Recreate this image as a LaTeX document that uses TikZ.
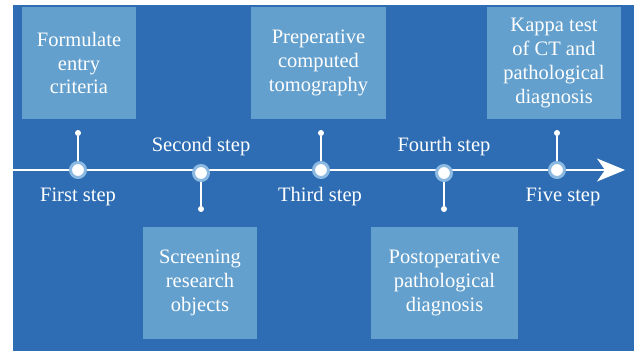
\documentclass[tikz,border=0pt]{standalone}
\usepackage{fontspec}
\setmainfont{Liberation Serif}
\usetikzlibrary{arrows.meta}
\definecolor{bgblue}{RGB}{46,109,179}
\definecolor{boxblue}{RGB}{100,160,205}
\definecolor{haloblue}{RGB}{140,185,225}
\tikzset{stepbox/.style={fill=boxblue, text=white, align=center, minimum height=112pt,
  inner sep=0pt, font=\fontsize{20.5}{23.7}\selectfont},
  steplabel/.style={text=white, anchor=base, font=\fontsize{20.5}{23}\selectfont},
  knot/.style={circle, fill=white, draw=haloblue, line width=3pt, minimum size=15pt, inner sep=0pt},
  stemdot/.style={circle, fill=white, minimum size=6pt, inner sep=0pt},
  stem/.style={white, line width=1.3pt}}
\begin{document}
\begin{tikzpicture}[x=1pt, y=-1pt]
      \useasboundingbox (0,0) rectangle (634,351);
      \fill [bgblue] (13,5) rectangle (634,351);

      % time line
      \coordinate (start) at (13,170);
      \coordinate (tip) at (625,170);
      \draw [white, line width=1.5pt, -{Stealth[length=28pt, width=23pt, inset=8pt]}] (start) -- (tip);

      \node [stepbox, minimum width=114pt] (box1) at (79,63) {Formulate\\entry\\criteria};
      \node [stepbox, minimum width=114pt] (box2) at (200,283) {Screening\\research\\objects};
      \node [stepbox, minimum width=135pt] (box3) at (318.5,63) {Preperative\\computed\\tomography};
      \node [stepbox, minimum width=147pt] (box4) at (444.5,283) {Postoperative\\pathological\\diagnosis};
      \node [stepbox, minimum width=134pt] (box5) at (554,63) {Kappa test\\of CT and\\pathological\\diagnosis};

      \node [stemdot] (d1) at (78,133) {};
      \node [stemdot] (d2) at (201,209) {};
      \node [stemdot] (d3) at (321,133) {};
      \node [stemdot] (d4) at (444,209) {};
      \node [stemdot] (d5) at (557,133) {};

      \node [knot] (k1) at (78,170) {};
      \node [knot] (k2) at (201,173) {};
      \node [knot] (k3) at (321,170) {};
      \node [knot] (k4) at (444,173) {};
      \node [knot] (k5) at (557,170) {};

      \foreach \i in {1,...,5} {\draw [stem] (k\i) -- (d\i);}

      \node [steplabel] (lab1) at (78,201) {First step};
      \node [steplabel] (lab2) at (201,151) {Second step};
      \node [steplabel] (lab3) at (320,201) {Third step};
      \node [steplabel] (lab4) at (444,151) {Fourth step};
      \node [steplabel] (lab5) at (563,201) {Five step};
    \end{tikzpicture}
\end{document}
